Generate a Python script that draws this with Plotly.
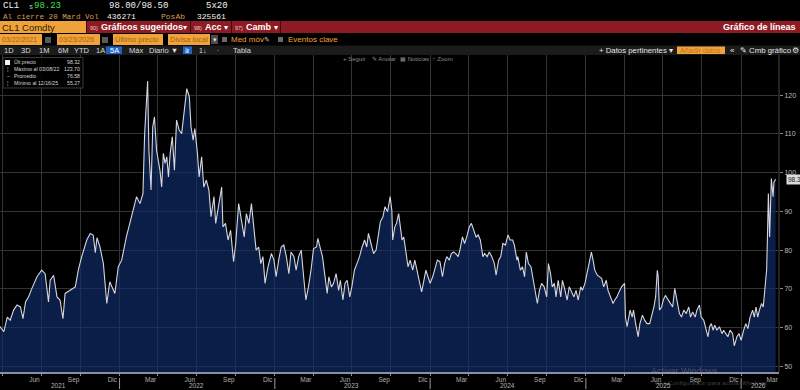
import plotly.graph_objects as go

# ---------------- data ----------------
dates = [
    "2021-03-22","2021-04-04","2021-04-12","2021-04-19","2021-04-27","2021-05-05","2021-05-13","2021-05-19",
    "2021-05-25","2021-06-01","2021-06-09","2021-06-21","2021-07-02","2021-07-10","2021-07-18","2021-07-22",
    "2021-07-30","2021-08-07","2021-08-14","2021-08-21","2021-08-26","2021-09-07","2021-09-19","2021-09-26",
    "2021-10-04","2021-10-16","2021-10-24","2021-10-31","2021-11-05","2021-11-09","2021-11-16","2021-11-24",
    "2021-12-02","2021-12-09","2021-12-21","2021-12-29",
    "2022-01-06","2022-01-17","2022-01-29","2022-02-10","2022-02-18","2022-02-25","2022-03-01","2022-03-08",
    "2022-03-11","2022-03-16","2022-03-20","2022-03-24","2022-03-29","2022-04-02","2022-04-06","2022-04-10",
    "2022-04-14","2022-04-18","2022-04-22","2022-04-26","2022-04-30","2022-05-05","2022-05-10","2022-05-15",
    "2022-05-21","2022-05-27","2022-06-02","2022-06-08","2022-06-14","2022-06-18","2022-06-23","2022-06-27",
    "2022-07-03","2022-07-07","2022-07-13","2022-07-18","2022-07-24","2022-07-30","2022-08-04","2022-08-11",
    "2022-08-15","2022-08-22","2022-08-29","2022-09-01","2022-09-07","2022-09-13","2022-09-19","2022-09-26",
    "2022-10-01","2022-10-08","2022-10-14","2022-10-21","2022-10-26","2022-11-01","2022-11-07","2022-11-12",
    "2022-11-18","2022-11-24","2022-11-29","2022-12-04","2022-12-09","2022-12-16","2022-12-24","2022-12-30",
    "2023-01-04","2023-01-10","2023-01-16","2023-01-22","2023-01-28","2023-02-03","2023-02-08","2023-02-15",
    "2023-02-20","2023-02-26","2023-03-04","2023-03-09","2023-03-15","2023-03-21","2023-03-27","2023-04-02",
    "2023-04-09","2023-04-12","2023-04-18","2023-04-23","2023-04-28","2023-05-04","2023-05-08","2023-05-14",
    "2023-05-19","2023-05-25","2023-05-31","2023-06-04","2023-06-10","2023-06-15","2023-06-20","2023-06-26",
    "2023-07-01","2023-07-07","2023-07-13","2023-07-19","2023-07-25","2023-07-31","2023-08-05","2023-08-09",
    "2023-08-15","2023-08-21","2023-08-27","2023-09-01","2023-09-06","2023-09-12","2023-09-17","2023-09-23",
    "2023-09-29","2023-10-03","2023-10-05","2023-10-10","2023-10-14","2023-10-19","2023-10-23","2023-10-27",
    "2023-10-31","2023-11-05","2023-11-10","2023-11-15","2023-11-21","2023-11-26","2023-12-01","2023-12-06",
    "2023-12-12","2023-12-16","2023-12-22","2023-12-27",
    "2024-01-01","2024-01-07","2024-01-12","2024-01-18","2024-01-24","2024-01-30","2024-02-04","2024-02-09",
    "2024-02-15","2024-02-20","2024-02-25","2024-03-01","2024-03-07","2024-03-11","2024-03-17","2024-03-22",
    "2024-03-27","2024-04-02","2024-04-07","2024-04-12","2024-04-18","2024-04-23","2024-04-28","2024-05-04",
    "2024-05-08","2024-05-14","2024-05-19","2024-05-25","2024-05-31","2024-06-04","2024-06-10","2024-06-15",
    "2024-06-20","2024-06-26","2024-07-02","2024-07-07","2024-07-13","2024-07-17","2024-07-23","2024-07-25",
    "2024-07-31","2024-08-05","2024-08-10","2024-08-14","2024-08-19","2024-08-25","2024-08-29","2024-09-04",
    "2024-09-09","2024-09-14","2024-09-19","2024-09-25","2024-10-01","2024-10-05","2024-10-10","2024-10-14",
    "2024-10-19","2024-10-23","2024-10-28","2024-11-03","2024-11-07","2024-11-13","2024-11-18","2024-11-23",
    "2024-11-29","2024-12-04","2024-12-09","2024-12-14","2024-12-20","2024-12-24","2024-12-30",
    "2025-01-04","2025-01-09","2025-01-14","2025-01-18","2025-01-22","2025-01-28","2025-02-02","2025-02-07",
    "2025-02-12","2025-02-18","2025-02-22","2025-02-28","2025-03-06","2025-03-10","2025-03-15","2025-03-20",
    "2025-03-26","2025-04-02","2025-04-04","2025-04-08","2025-04-15","2025-04-20","2025-04-23","2025-04-28",
    "2025-05-04","2025-05-08","2025-05-14","2025-05-19","2025-05-25","2025-05-31","2025-06-04","2025-06-10",
    "2025-06-14","2025-06-18","2025-06-20","2025-06-23","2025-06-28","2025-07-02","2025-07-07","2025-07-13",
    "2025-07-19","2025-07-24","2025-07-29","2025-08-04","2025-08-09","2025-08-14","2025-08-19","2025-08-25",
    "2025-08-31","2025-09-04","2025-09-09","2025-09-15","2025-09-19","2025-09-25","2025-09-29","2025-10-05",
    "2025-10-10","2025-10-15","2025-10-19","2025-10-23","2025-10-27","2025-10-31","2025-11-05","2025-11-11",
    "2025-11-17","2025-11-21","2025-11-26","2025-12-01","2025-12-06","2025-12-12","2025-12-16","2025-12-22",
    "2025-12-27",
    "2026-01-01","2026-01-07","2026-01-12","2026-01-17","2026-01-22","2026-01-28","2026-02-01","2026-02-05",
    "2026-02-09","2026-02-13","2026-02-18","2026-02-22","2026-02-26","2026-03-02","2026-03-04","2026-03-06",
    "2026-03-09","2026-03-11","2026-03-13","2026-03-17","2026-03-19","2026-03-23",
]
prices = [
    60.8,58.9,62.7,61.9,64.5,65.8,65.3,62.3,
    66.6,67.9,70.1,73.1,74.8,73.9,66.6,72.2,
    73.5,67.9,67.1,62.3,68.8,69.6,70.5,74.8,
    78.3,82.6,84.3,83.9,79.3,83.2,80.8,76.5,
    66.2,71.8,68.8,75.7,
    77.4,83.4,88.6,93.8,92.0,94.6,110.1,123.7,
    105.8,95.5,111.8,114.4,105.8,103.2,100.6,96.3,
    105.0,102.4,104.1,98.9,105.0,109.3,100.6,113.6,
    111.0,110.1,115.3,121.7,119.6,111.8,108.4,111.4,
    105.0,98.9,104.1,96.3,98.1,95.5,88.6,93.8,
    86.9,92.0,96.3,86.0,86.9,82.6,85.1,77.0,
    81.7,92.0,87.7,83.4,89.4,86.9,92.0,86.9,
    80.0,80.8,76.5,78.3,71.4,75.7,79.1,77.4,
    73.1,77.4,80.8,81.3,78.3,73.9,79.5,78.3,
    74.8,78.3,80.0,73.9,67.1,70.5,74.8,80.4,
    80.8,83.0,80.0,78.3,73.9,68.8,73.1,70.5,
    71.4,73.9,69.6,72.2,67.1,71.4,72.2,67.9,
    70.5,74.8,76.5,78.3,80.8,82.6,80.8,84.3,
    81.7,79.1,80.0,83.4,87.3,88.6,91.2,89.9,
    93.8,90.3,82.6,86.0,86.9,89.4,85.1,82.6,
    83.4,80.0,75.7,77.4,74.8,77.4,74.8,71.4,
    69.2,71.4,74.8,73.1,
    71.4,73.1,74.8,77.4,77.0,73.1,76.5,78.3,
    77.4,79.1,79.5,79.1,78.3,80.0,83.4,81.7,
    83.4,86.0,86.9,85.1,83.4,83.9,82.6,78.3,
    79.1,78.3,79.5,78.3,76.5,73.5,77.4,78.3,
    81.7,81.3,83.9,82.6,82.6,81.3,77.4,78.3,
    74.8,75.7,73.1,79.5,76.5,75.7,73.1,69.6,
    66.2,69.6,71.4,70.5,67.9,76.5,73.9,70.5,
    71.4,67.9,72.2,67.9,72.2,69.6,67.1,70.5,
    68.8,67.9,69.6,67.1,70.5,69.6,71.4,
    73.9,76.5,79.5,77.4,74.8,73.5,73.1,72.7,
    70.5,72.2,69.6,67.9,66.2,67.1,67.9,69.2,
    70.5,71.4,62.7,60.2,64.5,62.7,64.5,61.0,
    57.6,61.0,63.2,61.9,61.0,61.0,62.7,65.3,
    67.9,74.8,73.1,64.5,65.3,67.1,68.3,67.1,
    66.2,65.3,70.1,66.2,63.6,62.7,64.5,63.6,
    65.3,62.7,64.0,62.7,64.5,65.8,62.7,61.9,
    59.7,57.6,60.2,61.0,59.3,60.6,59.3,60.2,
    58.4,59.3,58.4,57.6,59.3,58.4,55.27,57.6,
    58.4,
    56.7,59.3,61.0,59.7,62.7,64.5,62.7,65.3,
    62.7,64.5,66.2,65.3,69.6,75.0,84.0,94.6,
    83.4,93.8,98.5,93.8,97.5,98.32,
]

x_range = ["2021-03-26", "2026-03-31"]
y_range = [48.5, 130.4]
y_tick_values = [50, 60, 70, 80, 90, 100, 110, 120]

month_tick_dates = [
    "2021-06-15","2021-09-15","2021-12-15",
    "2022-03-15","2022-06-15","2022-09-15","2022-12-15",
    "2023-03-15","2023-06-15","2023-09-15","2023-12-15",
    "2024-03-15","2024-06-15","2024-09-15","2024-12-15",
    "2025-03-15","2025-06-15","2025-09-15","2025-12-15",
    "2026-03-15",
]
month_tick_text = ["Jun","Sep","Dic"] + ["Mar","Jun","Sep","Dic"] * 4 + ["Mar"]

grid_dates = [
    "2021-04-01","2021-07-01","2021-10-01",
    "2022-01-01","2022-04-01","2022-07-01","2022-10-01",
    "2023-01-01","2023-04-01","2023-07-01","2023-10-01",
    "2024-01-01","2024-04-01","2024-07-01","2024-10-01",
    "2025-01-01","2025-04-01","2025-07-01","2025-10-01",
    "2026-01-01",
]
year_labels = ["2021", "2022", "2023", "2024", "2025", "2026"]
year_label_dates = ["2021-08-11","2022-07-01","2023-07-01","2024-07-01","2025-07-03","2026-02-10"]
year_sep_dates = ["2022-01-01","2023-01-01","2024-01-01","2025-01-01","2026-01-01"]

legend_names = ["Últ precio", "Máximo al 03/08/22", "Promedio", "Mínimo al 12/16/25"]
legend_values = ["98.32", "123.70", "76.58", "55.27"]
legend_icons = ["", "¦", "–", "¦"]

# ---------------- layout helpers ----------------
W, H = 800, 390
ML, MR, MT, MB = 0, 21, 55, 18
PW, PH = W - ML - MR, H - MT - MB

SANS = "Liberation Sans, Arial, sans-serif"
MONO = "Liberation Mono, DejaVu Sans Mono, monospace"
ORANGE = "#f0a33a"
TAN = "#d99c4e"
RED = "#8e1b24"

def px(x):
    return (x - ML) / PW

def py(y):
    return (H - MB - y) / PH

annotations = []
shapes = []

def text(x, y, s, size=8, color="#e6e6e6", anchor="left", family=SANS, bold=False, bg=None):
    a = dict(x=px(x), y=py(y), xref="paper", yref="paper",
             text=("<b>%s</b>" % s) if bold else s, showarrow=False,
             xanchor=anchor, yanchor="middle", borderpad=0,
             font=dict(size=size, color=color, family=family))
    if bg:
        a["bgcolor"] = bg
    annotations.append(a)

def rect(x0, y0, x1, y1, fill, line=None):
    shapes.append(dict(type="rect", xref="paper", yref="paper",
                       x0=px(x0), x1=px(x1), y0=py(y1), y1=py(y0),
                       fillcolor=fill, layer="above",
                       line=dict(width=0) if line is None else dict(color=line, width=1)))

def vline(x, y0, y1, color, width=1):
    shapes.append(dict(type="line", xref="paper", yref="paper",
                       x0=px(x), x1=px(x), y0=py(y1), y1=py(y0),
                       line=dict(color=color, width=width), layer="above"))

# ---------------- header rows ----------------
# row 1
text(2, 6, "CL1", 9, "#f0f0f0", family=MONO)
text(28, 6.5, "s", 7, "#cfcfcf", family=MONO)
text(33, 6, "98.23", 9, "#3ee04a", family=MONO)
text(108, 6, "98.00/98.50", 9, "#f0f0f0", family=MONO)
text(205, 6, "5x20", 9, "#f0f0f0", family=MONO)
# row 2
text(2, 16.5, "Al cierre 20 Mard Vol", 7.6, TAN, family=MONO)
text(106, 16.5, "436271", 8, "#f0f0f0", family=MONO)
text(160, 16.5, "PosAb", 8, TAN, family=MONO)
text(196, 16.5, "325561", 8, "#f0f0f0", family=MONO)
# row 3 (red bar)
rect(0, 21, 800, 33, RED)
rect(0, 21, 86, 33, ORANGE)
text(1, 27, "CL1 Comdty", 9.5, "#2a1a08")
for sx in [86.5, 190.5, 231.5, 280.5]:
    vline(sx, 21, 33, "#3a0a0e")
text(89, 27.5, "90)", 5.5, "#f0c8c8")
text(100, 27, "Gráficos sugeridos", 9, "#ffffff", bold=True)
text(182, 27, "▾", 8, "#ffffff")
text(193, 27.5, "98)", 5.5, "#f0c8c8")
text(204, 27, "Acc", 9, "#ffffff", bold=True)
text(223, 27, "▾", 8, "#ffffff")
text(234, 27.5, "97)", 5.5, "#f0c8c8")
text(245, 27, "Camb", 9, "#ffffff", bold=True)
text(273, 27, "▾", 8, "#ffffff")
text(797, 27, "Gráfico de líneas", 9, "#ffffff", anchor="right", bold=True)
# row 4
rect(0, 34, 42, 45, ORANGE)
text(1, 39.5, "03/22/2021", 7, "#a5600f")
rect(45, 37, 51, 43, "#5a5a5a")
rect(57, 34, 100, 45, ORANGE)
text(58, 39.5, "03/23/2026", 7, "#a5600f")
rect(102, 37, 108, 43, "#5a5a5a")
rect(113, 34, 163, 45, ORANGE)
text(114, 39.5, "Último precio", 7.5, "#a5600f")
rect(168, 34, 210, 45, ORANGE)
text(169, 39.5, "Divisa local", 7.5, "#a5600f")
rect(211, 35, 218, 44, "#4a4a4a")
text(212, 39.5, "▾", 7, "#dddddd")
rect(222, 37, 227, 42, "#6a6a6a")
text(230, 39.5, "Med móv", 8, ORANGE)
text(263, 39.5, "✎", 7, "#cfcfcf")
rect(278, 37, 283, 42, "#6a6a6a")
text(287, 39.5, "Eventos clave", 8, ORANGE)
# row 5 (dark toolbar)
rect(0, 45.5, 800, 55, "#1b1b1b")
for lx, lab in [(3, "1D"), (20, "3D"), (38, "1M"), (57, "6M"), (73, "YTD"), (95, "1A"),
                (128, "Máx"), (148, "Diario ▼")]:
    text(lx, 50.2, lab, 7.5, "#dcdcdc")
rect(106, 46.5, 122, 54, "#1e63c8")
text(109, 50.2, "5A", 7.5, "#ffffff")
rect(183, 46.5, 192, 54, "#1e63c8")
text(184, 50.2, "⩰", 7, "#ffffff")
text(198, 50.2, "1↓", 7, "#dcdcdc")
text(216, 50.2, "·", 7, "#dcdcdc")
text(232, 50.2, "Tabla", 7.5, "#dcdcdc")
text(598, 50.2, "+ Datos pertinentes ▾", 7.8, "#e6e6e6")
rect(677, 46.5, 725, 54, ORANGE)
text(679, 50.2, "Añadir datos", 7.2, "#c0741a")
text(729, 50.2, "«", 8, "#e6e6e6")
text(739, 50.2, "✎", 7.5, "#e6e6e6")
text(748, 50.2, "Cmb gráfico", 7.8, "#e6e6e6")
text(791, 50.2, "⚙", 8, "#e6e6e6")
# row 6 (chart mini toolbar)
text(342, 59, "+ Seguir", 6, "#8a8a8a")
text(371, 59, "✎ Anotar", 6, "#8a8a8a")
text(399, 59, "▦ Noticias", 6, "#8a8a8a")
text(431, 59, "○ Zoom", 6, "#8a8a8a")

# ---------------- legend box ----------------
rect(3, 57.5, 83, 88, "rgba(0,0,0,0.85)", line="#3a3a3a")
rect(5, 60, 10, 65, "#f2f2f2")
for i, (nm, val, ic) in enumerate(zip(legend_names, legend_values, legend_icons)):
    yy = 62.5 + i * 6.9
    if ic:
        text(6, yy, ic, 5.5, "#bdbdbd")
    text(12.5, yy, nm, 5.2, "#d6d6d6")
    text(81, yy, val, 5.2, "#d6d6d6", anchor="right")

# right edge separator of the plot
vline(779, 55, 372, "#2e2e2e", 1.5)

# year separators and labels under the axis
for d in year_sep_dates:
    shapes.append(dict(type="line", xref="x", yref="paper", x0=d, x1=d,
                       y0=py(389), y1=py(378), line=dict(color="#9a9a9a", width=1)))
for d, lab in zip(year_label_dates, year_labels):
    annotations.append(dict(x=d, y=py(385), xref="x", yref="paper", text=lab, showarrow=False,
                            xanchor="center", yanchor="middle",
                            font=dict(size=6.5, color="#b5b5b5", family=SANS)))

# last price tag
annotations.append(dict(x=1 + 7 / PW, y=prices[-1], xref="paper", yref="y", text=legend_values[0],
                        showarrow=False, xanchor="left", yanchor="middle", bgcolor="#dcdcdc",
                        borderpad=1, font=dict(size=6.5, color="#111111", family=SANS)))

# windows watermark
text(650, 371, "Activar Windows", 9, "rgba(190,190,190,0.35)")
text(653, 382.5, "Ve a Configuración para activar Windows.", 6.2, "rgba(190,190,190,0.35)")

# ---------------- figure ----------------
fig = go.Figure()
fig.add_trace(go.Scatter(
    x=dates, y=prices, mode="lines", fill="tozeroy",
    fillcolor="rgba(16,46,108,0.66)",
    line=dict(color="#d6d6de", width=1.1),
    hoverinfo="skip", showlegend=False,
))

fig.update_layout(
    width=W, height=H,
    margin=dict(l=ML, r=MR, t=MT, b=MB),
    paper_bgcolor="#000000", plot_bgcolor="#000000",
    showlegend=False,
    xaxis=dict(
        type="date", range=x_range, tickmode="array",
        tickvals=month_tick_dates, ticktext=month_tick_text,
        showgrid=False, ticks="", zeroline=False,
        tickfont=dict(size=6.5, color="#b0b0b0", family=SANS),
        showline=True, linecolor="#8c8ca2", linewidth=2,
        minor=dict(tickmode="array", tickvals=grid_dates, showgrid=True,
                   gridcolor="#333333", gridwidth=1, ticks="outside",
                   ticklen=2, tickcolor="#8c8ca2"),
        fixedrange=True,
    ),
    yaxis=dict(
        range=y_range, side="right", tickmode="array", tickvals=y_tick_values,
        showgrid=True, gridcolor="#333333", gridwidth=1, zeroline=False,
        ticks="outside", ticklen=3, tickcolor="#8a8a8a",
        tickfont=dict(size=7, color="#bdbdbd", family=SANS),
        fixedrange=True,
    ),
    shapes=shapes,
    annotations=annotations,
)

fig.write_html("out.html", config={"displayModeBar": False},
               post_script="document.body.style.margin='0';document.body.style.background='#000';")
